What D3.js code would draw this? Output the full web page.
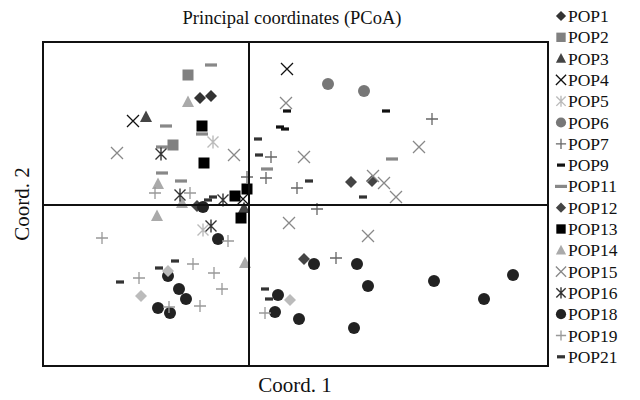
<!DOCTYPE html>
<html><head><meta charset="utf-8">
<script src="https://cdn.jsdelivr.net/npm/d3@7"></script>
<style>body{margin:0;background:#fff}svg{display:block}text{font-family:"Liberation Serif","Times New Roman",serif;fill:#111}</style>
</head><body><svg id="c" width="640" height="400"></svg>
<script>
// Coordinates in PCoA units (Coord. 1, Coord. 2)
const POP1  = [[-0.49,1.07],[-0.38,1.09]];
const POP2  = [[-0.61,1.30],[-0.76,0.60]];
const POP3  = [[-1.03,0.88],[-0.05,-0.03]];
const POP4  = [[-1.16,0.84],[0.38,1.36],[-0.06,0.06]];
const POP5  = [[-0.36,0.63],[-0.46,-0.25]];
const POP6  = [[0.79,1.21],[1.15,1.14]];
const POP7  = [[1.83,0.86],[0.22,0.48],[0.17,0.27],[0.48,0.17],[0.68,-0.04],[0.87,-0.53],[-0.02,0.28]];
const POP9  = [[1.37,0.94],[0.31,0.78],[0.36,0.76],[0.38,0.94]];
const POP11 = [[-0.38,1.40],[-0.83,0.79],[-0.47,0.71],[-0.87,0.58],[-0.87,0.32],[-0.68,0.24],[1.43,0.46],[0.18,0.36]];
const POP12 = [[-0.52,-0.01],[1.02,0.23],[1.23,0.24],[0.55,-0.54]];
const POP13 = [[-0.47,0.79],[-0.45,0.42],[-0.14,0.09],[-0.02,0.16],[-0.08,-0.13]];
const POP14 = [[-0.61,1.03],[-0.91,0.21],[-0.67,0.02],[-0.92,-0.11],[-0.04,-0.58]];
const POP15 = [[-1.32,0.52],[-0.15,0.50],[0.37,1.02],[1.70,0.58],[0.55,0.48],[1.24,0.29],[1.35,0.22],[1.47,0.08],[0.40,-0.18],[1.19,-0.31]];
const POP16 = [[-0.88,0.51],[-0.69,0.10],[-0.26,0.05],[-0.38,-0.21]];
const POP18 = [[-0.46,-0.02],[-0.31,-0.34],[-0.81,-0.71],[-0.70,-0.84],[-0.63,-0.94],[-0.91,-1.03],[-0.79,-1.08],[0.65,-0.59],[1.08,-0.59],[1.19,-0.81],[1.85,-0.76],[2.64,-0.70],[2.35,-0.94],[0.29,-0.90],[0.26,-1.07],[0.50,-1.14],[1.05,-1.23]];
const POP19 = [[-0.94,0.12],[-0.59,0.12],[-1.47,-0.33],[-0.21,-0.36],[-1.10,-0.73],[-0.56,-0.59],[-0.35,-0.68],[-0.27,-0.84],[-0.80,-1.02],[-0.49,-1.01],[0.16,-1.08]];
const POP21 = [[0.09,0.66],[0.10,0.50],[0.60,0.24],[1.14,0.08],[-0.41,0.05],[-0.36,0.08],[-0.74,-0.56],[-0.90,-0.63],[-1.29,-0.77],[0.16,-0.84],[0.20,-0.94]];
const UNLISTED = [[-0.81,-0.66],[-1.08,-0.91],[0.41,-0.95]];

const xDomain = [-2.06, 2.99];
const yDomain = [-1.61, 1.63];
const title = "Principal coordinates (PCoA)";
const xLabel = "Coord. 1";
const yLabel = "Coord. 2";

const series = [
  {name:"POP1",  data:POP1,  shape:"diamond", color:"#333"},
  {name:"POP2",  data:POP2,  shape:"square",  color:"#808080"},
  {name:"POP3",  data:POP3,  shape:"triangle",color:"#444"},
  {name:"POP4",  data:POP4,  shape:"times",   color:"#111"},
  {name:"POP5",  data:POP5,  shape:"asterisk",color:"#bbb"},
  {name:"POP6",  data:POP6,  shape:"circle",  color:"#777"},
  {name:"POP7",  data:POP7,  shape:"plus",    color:"#666"},
  {name:"POP9",  data:POP9,  shape:"dashS",   color:"#111"},
  {name:"POP11", data:POP11, shape:"dashL",   color:"#888"},
  {name:"POP12", data:POP12, shape:"diamond", color:"#444"},
  {name:"POP13", data:POP13, shape:"square",  color:"#000"},
  {name:"POP14", data:POP14, shape:"triangle",color:"#aaa"},
  {name:"POP15", data:POP15, shape:"times",   color:"#888"},
  {name:"POP16", data:POP16, shape:"asterisk",color:"#333"},
  {name:"POP18", data:POP18, shape:"circle",  color:"#222"},
  {name:"POP19", data:POP19, shape:"plus",    color:"#999"},
  {name:"POP21", data:POP21, shape:"dashS",   color:"#333"},
  {name:"", data:UNLISTED, shape:"diamond", color:"#bbb", hidden:true}
];

const svg = d3.select("#c");
const box = {l:43, r:548, t:42, b:366};
const x = d3.scaleLinear().domain(xDomain).range([box.l, box.r]);
const y = d3.scaleLinear().domain(yDomain).range([box.b, box.t]);

function drawMark(g, shape, color, s){
  s = s || 1;
  if(shape==="circle") g.append("circle").attr("r",6*s).attr("fill",color);
  else if(shape==="square") g.append("rect").attr("x",-5.5*s).attr("y",-5.5*s).attr("width",11*s).attr("height",11*s).attr("fill",color);
  else if(shape==="diamond") g.append("path").attr("d",`M0,${-6*s}L${6*s},0L0,${6*s}L${-6*s},0Z`).attr("fill",color);
  else if(shape==="triangle") g.append("path").attr("d",`M0,${-6.5*s}L${6*s},${5*s}L${-6*s},${5*s}Z`).attr("fill",color);
  else if(shape==="times") g.append("path").attr("d",`M${-6*s},${-6*s}L${6*s},${6*s}M${6*s},${-6*s}L${-6*s},${6*s}`).attr("stroke",color).attr("stroke-width",1.3).attr("fill","none");
  else if(shape==="plus") g.append("path").attr("d",`M${-6*s},0L${6*s},0M0,${-6*s}L0,${6*s}`).attr("stroke",color).attr("stroke-width",1.3).attr("fill","none");
  else if(shape==="asterisk") g.append("path").attr("d",`M${-5.5*s},${-5.5*s}L${5.5*s},${5.5*s}M${5.5*s},${-5.5*s}L${-5.5*s},${5.5*s}M0,${-6.5*s}L0,${6.5*s}`).attr("stroke",color).attr("stroke-width",1.4).attr("fill","none");
  else if(shape==="dashS") g.append("rect").attr("x",-4).attr("y",-1.6).attr("width",8).attr("height",3.2).attr("fill",color);
  else if(shape==="dashL") g.append("rect").attr("x",-6).attr("y",-1.6).attr("width",12).attr("height",3.2).attr("fill",color);
}

// points
const pts = svg.append("g");
series.forEach(sr=>{
  sr.data.forEach(d=>{
    const g = pts.append("g").attr("transform",`translate(${x(d[0])},${y(d[1])})`);
    drawMark(g, sr.shape, sr.color);
  });
});

// frame and zero lines
svg.append("rect").attr("x",box.l).attr("y",box.t).attr("width",box.r-box.l).attr("height",box.b-box.t)
  .attr("fill","none").attr("stroke","#111").attr("stroke-width",2);
svg.append("line").attr("x1",x(0)).attr("x2",x(0)).attr("y1",box.t).attr("y2",box.b).attr("stroke","#111").attr("stroke-width",2);
svg.append("line").attr("x1",box.l).attr("x2",box.r).attr("y1",y(0)).attr("y2",y(0)).attr("stroke","#111").attr("stroke-width",2);

// titles
svg.append("text").attr("x",292).attr("y",24).attr("text-anchor","middle").attr("font-size",18.5).text(title);
svg.append("text").attr("x",295).attr("y",392).attr("text-anchor","middle").attr("font-size",21).text(xLabel);
svg.append("text").attr("transform",`translate(29,${(box.t+box.b)/2}) rotate(-90)`).attr("text-anchor","middle").attr("font-size",21).text(yLabel);

// legend
const leg = svg.append("g");
series.filter(s=>!s.hidden).forEach((sr,i)=>{
  const cy = 16 + i*21.3;
  const g = leg.append("g").attr("transform",`translate(561,${cy})`);
  drawMark(g, sr.shape, sr.color, 0.85);
  leg.append("text").attr("x",568).attr("y",cy+6).attr("font-size",17.5).text(sr.name);
});
</script></body></html>
